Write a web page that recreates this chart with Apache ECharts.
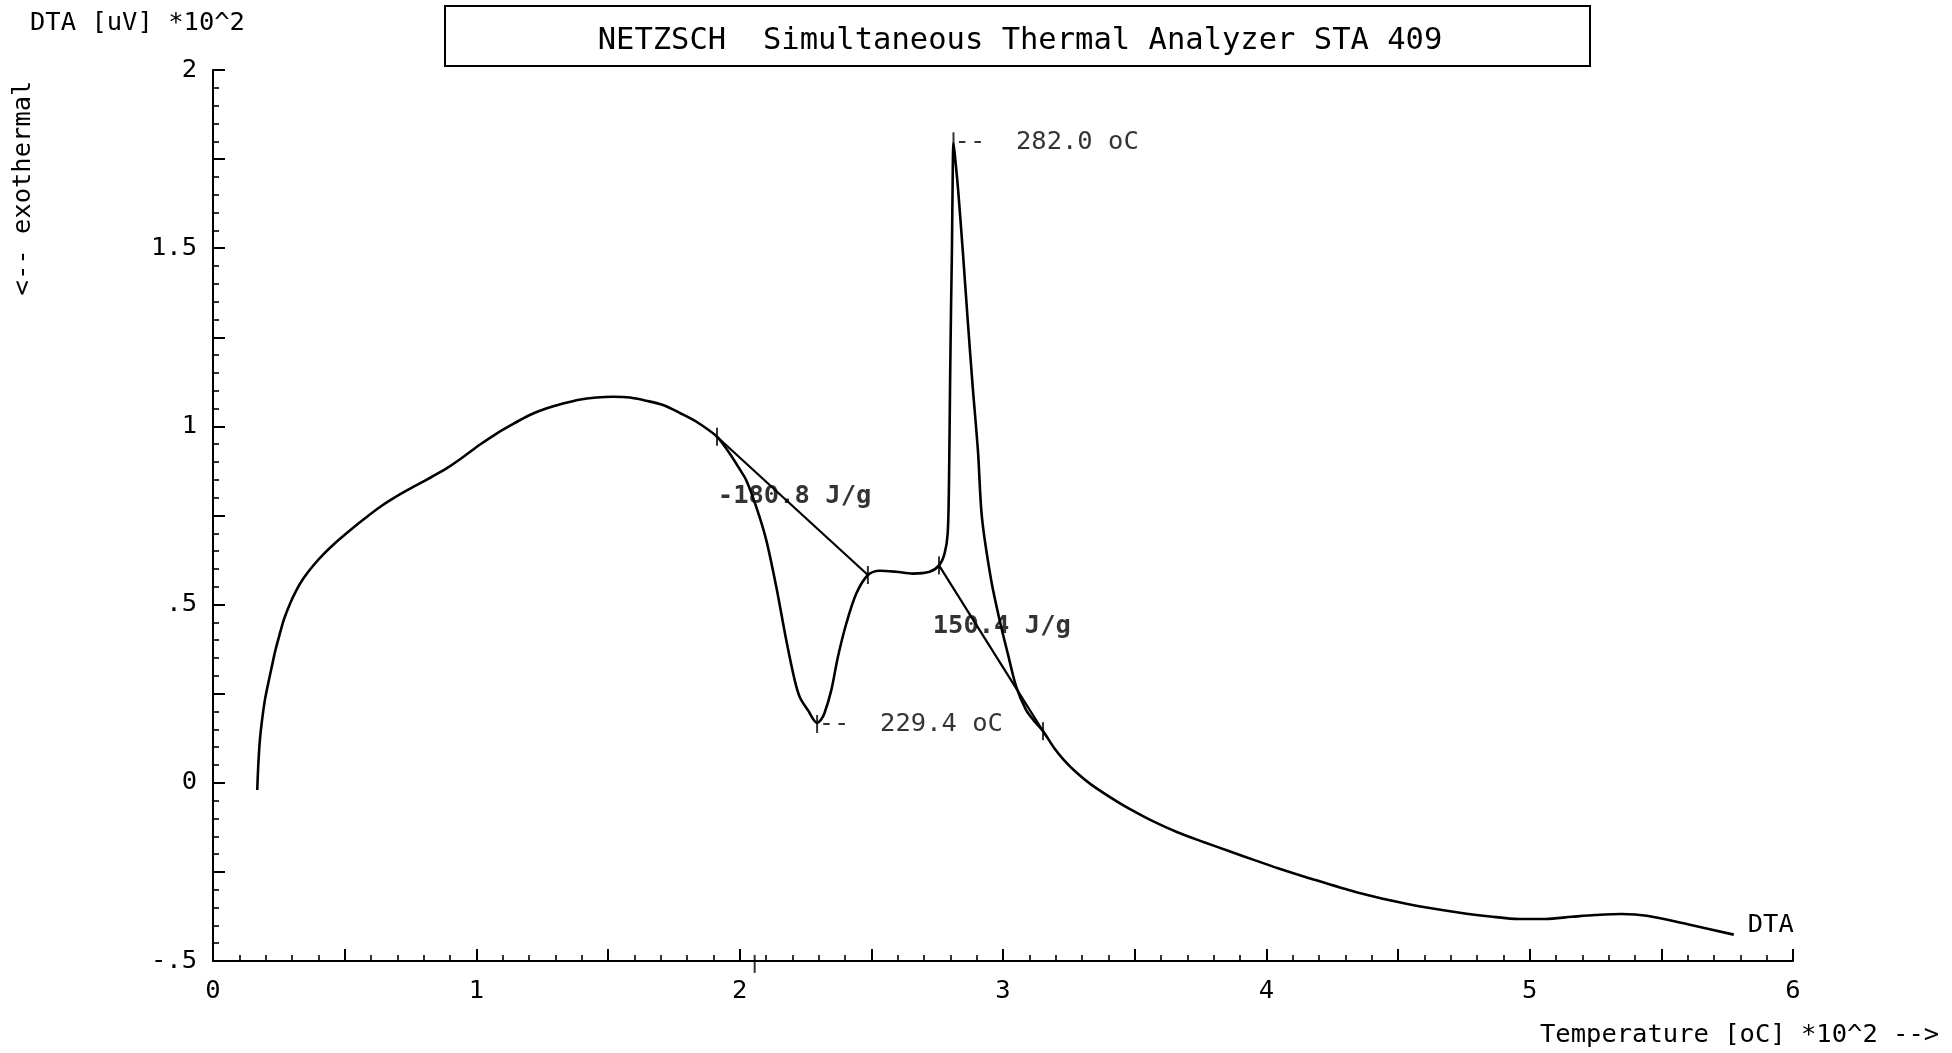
<!DOCTYPE html>
<html><head><meta charset="utf-8">
<script src="https://cdn.jsdelivr.net/npm/echarts@6/dist/echarts.min.js"></script>
<style>html,body{margin:0;padding:0;background:#fff}#c{width:1952px;height:1053px}</style>
</head><body><div id="c"></div>
<script>
// Temperature [oC] *10^2
const temperature = [0.168,0.172,0.178,0.187,0.197,0.21,0.223,0.238,0.254,0.27,0.292,0.315,0.343,0.38,0.419,0.46,0.507,0.57,0.634,0.70,0.773,0.83,0.887,0.95,1.01,1.077,1.14,1.203,1.265,1.329,1.39,1.456,1.52,1.583,1.645,1.709,1.775,1.836,1.914,1.962,2.0,2.025,2.063,2.101,2.139,2.177,2.209,2.228,2.259,2.294,2.308,2.322,2.348,2.373,2.405,2.443,2.487,2.531,2.594,2.657,2.721,2.757,2.778,2.79,2.795,2.799,2.803,2.806,2.809,2.812,2.82,2.83,2.848,2.866,2.885,2.905,2.92,2.955,2.987,3.018,3.05,3.088,3.126,3.152,3.195,3.229,3.28,3.335,3.432,3.50,3.567,3.66,3.761,3.86,3.955,4.05,4.148,4.342,4.536,4.729,4.85,4.96,5.06,5.16,5.25,5.35,5.445,5.6,5.775];
// DTA [uV] *10^2
const dta = [-0.02,0.05,0.12,0.18,0.232,0.28,0.325,0.375,0.419,0.46,0.502,0.538,0.573,0.609,0.641,0.670,0.700,0.738,0.774,0.805,0.835,0.858,0.882,0.914,0.947,0.98,1.007,1.032,1.05,1.064,1.075,1.081,1.083,1.081,1.072,1.06,1.037,1.013,0.971,0.924,0.88,0.849,0.774,0.681,0.55,0.40,0.288,0.241,0.204,0.168,0.176,0.195,0.26,0.353,0.447,0.531,0.583,0.595,0.592,0.587,0.592,0.61,0.643,0.70,0.85,1.12,1.35,1.49,1.70,1.795,1.74,1.66,1.485,1.298,1.111,0.93,0.745,0.569,0.457,0.363,0.27,0.204,0.167,0.145,0.097,0.066,0.028,-0.005,-0.052,-0.081,-0.107,-0.138,-0.166,-0.192,-0.217,-0.241,-0.264,-0.307,-0.34,-0.364,-0.375,-0.382,-0.382,-0.376,-0.371,-0.368,-0.373,-0.397,-0.426];

// integration baselines
const baseline1X = [1.914, 2.487];
const baseline1Y = [0.971, 0.583];
const baseline2X = [2.757, 3.152];
const baseline2Y = [0.61, 0.145];

// vertical tick markers (baseline limits, peak marks, axis mark)
const markerX = [1.914, 2.487, 2.757, 3.152, 2.294, 2.812, 2.057];
const markerY = [0.971, 0.583, 0.61, 0.145, 0.165, 1.80, -0.508];

// energy annotations
const energyText = ['-180.8 J/g', '150.4 J/g'];
const energyX = [1.917, 2.733];
const energyY = [0.804, 0.438];

// peak temperature annotations
const peakText = ['--  229.4 oC', '--  282.0 oC'];
const peakX = [2.30, 2.816];
const peakY = [0.165, 1.797];

// axis ticks
const xTickValues = [0, 1, 2, 3, 4, 5, 6];
const xTickLabels = ['0', '1', '2', '3', '4', '5', '6'];
const yTickValues = [-0.5, 0, 0.5, 1, 1.5, 2];
const yTickLabels = ['-.5', '0', '.5', '1', '1.5', '2'];

const FONT = 'DejaVu Sans Mono';
const INK = '#000';

function zip(a, b) { return a.map((v, i) => [v, b[i]]); }
function tickLabel(values, labels) {
  return function (v) {
    for (let i = 0; i < values.length; i++) {
      if (Math.abs(values[i] - v) < 1e-6) return labels[i];
    }
    return '';
  };
}

const chart = echarts.init(document.getElementById('c'), null, { renderer: 'canvas' });
chart.setOption({
  animation: false,
  backgroundColor: '#fff',
  title: {
    text: 'NETZSCH  Simultaneous Thermal Analyzer STA 409',
    left: 1015, top: 36,
    textAlign: 'center', textVerticalAlign: 'middle',
    textStyle: { fontFamily: FONT, fontSize: 30.5, fontWeight: 'normal', color: INK }
  },
  graphic: [
    { type: 'rect', shape: { x: 445, y: 6, width: 1145, height: 60 },
      style: { fill: 'none', stroke: INK, lineWidth: 2 } },
    { type: 'text', x: 30, y: 23,
      style: { text: 'DTA [uV] *10^2', fontFamily: FONT, fontSize: 25.5, fill: INK, align: 'left', verticalAlign: 'middle' } },
    { type: 'text', x: 23, y: 188, rotation: Math.PI / 2,
      style: { text: '<-- exothermal', fontFamily: FONT, fontSize: 25.5, fill: INK, align: 'center', verticalAlign: 'middle' } },
    { type: 'text', x: 1540, y: 1035,
      style: { text: 'Temperature [oC] *10^2 -->', fontFamily: FONT, fontSize: 25.5, fill: INK, align: 'left', verticalAlign: 'middle' } }
  ],
  grid: { left: 213, right: 159, top: 70, bottom: 92, containLabel: false },
  xAxis: {
    type: 'value', min: 0, max: 6, interval: 0.5,
    axisLine: { show: true, onZero: false, lineStyle: { color: INK, width: 2 } },
    axisTick: { show: true, inside: true, length: 12, lineStyle: { color: INK, width: 2 } },
    minorTick: { show: true, splitNumber: 5, length: 6, lineStyle: { color: INK, width: 1.6 } },
    splitLine: { show: false },
    axisLabel: { margin: 17, fontFamily: FONT, fontSize: 25.5, color: INK,
      formatter: tickLabel(xTickValues, xTickLabels) }
  },
  yAxis: {
    type: 'value', min: -0.5, max: 2, interval: 0.25,
    axisLine: { show: true, onZero: false, lineStyle: { color: INK, width: 2 } },
    axisTick: { show: true, inside: true, length: 12, lineStyle: { color: INK, width: 2 } },
    minorTick: { show: true, splitNumber: 5, length: 6, lineStyle: { color: INK, width: 1.6 } },
    splitLine: { show: false },
    axisLabel: { margin: 16, fontFamily: FONT, fontSize: 25.5, color: INK,
      formatter: tickLabel(yTickValues, yTickLabels) }
  },
  series: [
    {
      name: 'DTA', type: 'line', data: zip(temperature, dta),
      smooth: 0.3, showSymbol: false,
      lineStyle: { color: INK, width: 2.6 },
      endLabel: { show: true, formatter: 'DTA', fontFamily: FONT, fontSize: 25.5, color: INK, offset: [6, -9] }
    },
    { type: 'line', data: zip(baseline1X, baseline1Y), showSymbol: false,
      lineStyle: { color: INK, width: 2.2 } },
    { type: 'line', data: zip(baseline2X, baseline2Y), showSymbol: false,
      lineStyle: { color: INK, width: 2.2 } },
    { type: 'scatter', data: zip(markerX, markerY), symbol: 'rect', symbolSize: [2, 18],
      itemStyle: { color: INK }, clip: false, silent: true },
    { type: 'scatter', data: energyX.map((x, i) => ({ value: [x, energyY[i]], name: energyText[i] })),
      symbolSize: 0, silent: true,
      label: { show: true, position: 'right', distance: 0, formatter: p => p.name,
        fontFamily: FONT, fontSize: 25.5, fontWeight: 'bold', color: INK } },
    { type: 'scatter', data: peakX.map((x, i) => ({ value: [x, peakY[i]], name: peakText[i] })),
      symbolSize: 0, silent: true,
      label: { show: true, position: 'right', distance: 0, formatter: p => p.name,
        fontFamily: FONT, fontSize: 25.5, color: INK } }
  ]
});
</script>
</body></html>
